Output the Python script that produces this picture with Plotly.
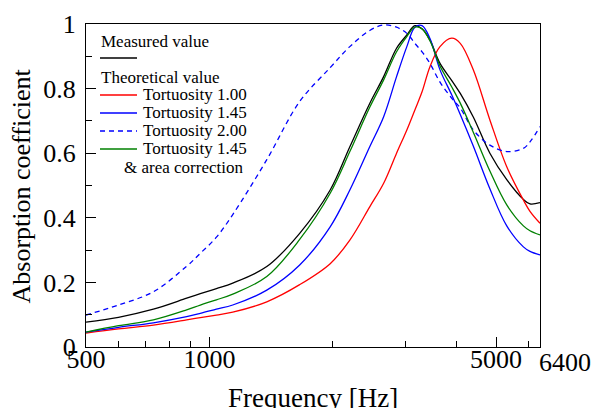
import plotly.graph_objects as go

freq = [500, 600, 730, 880, 950, 1040, 1140, 1380, 1660, 1970, 2200, 2460, 2660, 2860,
        3030, 3170, 3300, 3450, 3650, 3900, 4090, 4400, 4830, 5310, 5830, 6050, 6400]

measured = [0.077, 0.092, 0.117, 0.151, 0.165, 0.181, 0.198, 0.249, 0.352, 0.486, 0.620, 0.754, 0.837, 0.925,
            0.966, 0.995, 0.985, 0.950, 0.878, 0.825, 0.785, 0.712, 0.600, 0.518, 0.457, 0.443, 0.447]
tort_100 = [0.043, 0.056, 0.068, 0.084, 0.091, 0.099, 0.108, 0.140, 0.193, 0.258, 0.331, 0.434, 0.507, 0.600,
            0.672, 0.734, 0.790, 0.868, 0.930, 0.956, 0.940, 0.858, 0.703, 0.558, 0.455, 0.420, 0.383]
tort_145 = [0.046, 0.061, 0.075, 0.094, 0.104, 0.117, 0.130, 0.176, 0.254, 0.372, 0.486, 0.620, 0.713, 0.837,
            0.930, 0.990, 0.995, 0.955, 0.858, 0.780, 0.720, 0.622, 0.490, 0.375, 0.310, 0.296, 0.285]
tort_200 = [0.099, 0.130, 0.171, 0.250, 0.290, 0.340, 0.410, 0.580, 0.760, 0.865, 0.930, 0.980, 0.997, 0.990,
            0.971, 0.940, 0.914, 0.878, 0.820, 0.770, 0.740, 0.672, 0.625, 0.605, 0.615, 0.635, 0.682]
tort_145_area = [0.046, 0.066, 0.084, 0.115, 0.130, 0.146, 0.164, 0.218, 0.333, 0.476, 0.605, 0.742, 0.827, 0.914,
                 0.961, 0.990, 0.985, 0.948, 0.870, 0.805, 0.755, 0.665, 0.545, 0.440, 0.375, 0.360, 0.347]

x_tick_vals = [500, 1000, 5000]
x_tick_text = ["500", "1000", "5000"]
x_minor_vals = [600, 700, 800, 900, 2000, 3000, 4000, 6000]
y_tick_vals = [0, 0.2, 0.4, 0.6, 0.8, 1.0]
y_tick_text = ["0", "0.2", "0.4", "0.6", "0.8", "1"]
y_minor_vals = [0.1, 0.3, 0.5, 0.7, 0.9]

FONT = "Liberation Serif, Tinos, DejaVu Serif, serif"

series = [
    ("Measured value", measured, "#000000", "solid"),
    ("Tortuosity 1.00", tort_100, "#ff0000", "solid"),
    ("Tortuosity 1.45", tort_145, "#0000ff", "solid"),
    ("Tortuosity 2.00", tort_200, "#0000ff", "5px,4px"),
    ("Tortuosity 1.45 & area correction", tort_145_area, "#008000", "solid"),
]

fig = go.Figure()
for name, vals, color, dash in series:
    fig.add_trace(go.Scatter(x=freq, y=vals, mode="lines", name=name,
                             line=dict(color=color, width=1.3, dash=dash, shape="spline", smoothing=1.0),
                             showlegend=False))

fig.update_layout(
    width=595, height=408,
    margin=dict(l=86, r=55, t=24, b=61, autoexpand=False),
    paper_bgcolor="white", plot_bgcolor="white",
    font=dict(family=FONT, size=26, color="black"),
    showlegend=False,
)
fig.update_xaxes(
    type="log", range=[2.69897, 3.80618], automargin=False,
    tickmode="array", tickvals=x_tick_vals, ticktext=x_tick_text,
    ticks="inside", ticklen=10, tickwidth=1, tickcolor="black",
    minor=dict(tickmode="array", tickvals=x_minor_vals, ticks="inside", ticklen=6,
               tickwidth=1, tickcolor="black", showgrid=False),
    showline=True, linecolor="black", linewidth=1.2, mirror=True,
    showgrid=False, zeroline=False,
    tickfont=dict(family=FONT, size=26), ticklabelstandoff=-11,
)
fig.update_yaxes(
    range=[0, 1], automargin=False,
    tickmode="array", tickvals=y_tick_vals, ticktext=y_tick_text,
    ticks="inside", ticklen=10, tickwidth=1, tickcolor="black",
    minor=dict(tickmode="array", tickvals=y_minor_vals, ticks="inside", ticklen=6,
               tickwidth=1, tickcolor="black", showgrid=False),
    showline=True, linecolor="black", linewidth=1.2, mirror=True,
    showgrid=False, zeroline=False,
    tickfont=dict(family=FONT, size=26), ticklabelstandoff=4,
)

# extra end tick label
fig.add_annotation(x=3.80618, y=0, xref="x", yref="paper", text="6400", showarrow=False,
                   xanchor="left", yanchor="top", yshift=1, xshift=-3,
                   font=dict(family=FONT, size=26))

# axis titles
fig.add_annotation(x=0.5, y=0, xref="paper", yref="paper", text="Frequency [Hz]", showarrow=False,
                   xanchor="center", yanchor="top", yshift=-34, font=dict(family=FONT, size=27))
fig.add_annotation(x=-0.141, y=0.5, xref="paper", yref="paper", text="Absorption coefficient",
                   showarrow=False, textangle=-90, xanchor="center", yanchor="middle",
                   font=dict(family=FONT, size=26))

# custom legend
def px2x(px):
    return (px - 86) / 454.0

def py2y(py):
    return (347 - py) / 323.0

LF = dict(family=FONT, size=17, color="black")
fig.add_annotation(x=px2x(99), y=py2y(41.5), xref="paper", yref="paper", text="Measured value",
                   showarrow=False, xanchor="left", yanchor="middle", font=LF)
fig.add_annotation(x=px2x(99), y=py2y(77), xref="paper", yref="paper", text="Theoretical value",
                   showarrow=False, xanchor="left", yanchor="middle", font=LF)

legend_rows = [
    (58, "#000000", "solid", None),
    (95, "#ff0000", "solid", "Tortuosity 1.00"),
    (113, "#0000ff", "solid", "Tortuosity 1.45"),
    (131, "#0000ff", "5px,4px", "Tortuosity 2.00"),
    (149, "#008000", "solid", "Tortuosity 1.45"),
]
for py, color, dash, label in legend_rows:
    fig.add_shape(type="line", xref="paper", yref="paper",
                  x0=px2x(100), x1=px2x(137), y0=py2y(py), y1=py2y(py),
                  line=dict(color=color, width=1.3, dash=dash))
    if label:
        fig.add_annotation(x=px2x(141), y=py2y(py - 0.5), xref="paper", yref="paper", text=label,
                           showarrow=False, xanchor="left", yanchor="middle", font=LF)
fig.add_annotation(x=px2x(122), y=py2y(167.5), xref="paper", yref="paper", text="&amp; area correction",
                   showarrow=False, xanchor="left", yanchor="middle", font=LF)

fig.write_html("out.html", config={"displayModeBar": False},
               post_script="document.body.style.margin='0';document.body.style.padding='0';")
